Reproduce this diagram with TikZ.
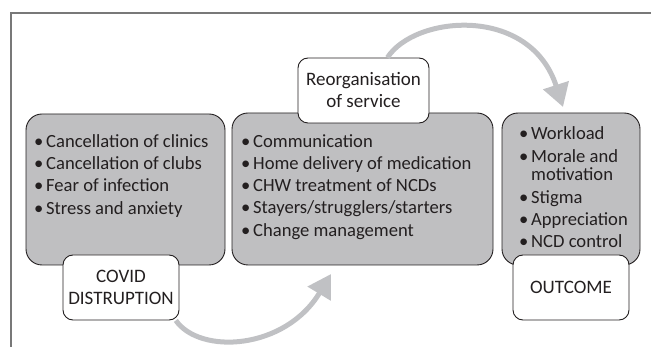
\documentclass[tikz,border=0pt]{standalone}
\usepackage{fontspec}
\setmainfont{Carlito}
\usetikzlibrary{arrows.meta, positioning}

\definecolor{boxgray}{HTML}{BFBFC1}
\definecolor{flowgray}{HTML}{C0C1C4}
\definecolor{framegray}{HTML}{787878}
\definecolor{ink}{HTML}{231F20}

\newcommand{\bul}[1]{\makebox[12pt][l]{\textbullet}#1}

\tikzset{
  graybox/.style={draw=ink, line width=0.9pt, fill=boxgray, rounded corners=16pt},
  labelbox/.style={draw=ink, line width=0.9pt, fill=white, rounded corners=10pt,
    align=center, text=ink, font=\fontsize{19}{22}\selectfont},
  itemlist/.style={align=left, anchor=north west, inner sep=0pt, text=ink,
    font=\fontsize{18.6}{22.3}\selectfont},
  flow/.style={draw=flowgray, line width=5pt, -{Triangle[length=23pt,width=26pt]}},
}

\begin{document}
\begin{tikzpicture}[x=1pt, y=-1pt]
\useasboundingbox (0,0) rectangle (651,347);
% frame
\draw[framegray, line width=1.2pt] (11,347) -- (11,13) -- (651,13);

% gray boxes
\node[graybox, minimum width=199pt, minimum height=151pt] (cause) at (125.5,189.5) {};
\node[graybox, minimum width=261pt, minimum height=152pt] (service) at (362.5,189) {};
\node[graybox, minimum width=138pt, minimum height=152pt] (result) at (571,189) {};

\node[itemlist] (causelist) at (34,134) {\bul{Cancellation of clinics}\\
  \bul{Cancellation of clubs}\\ \bul{Fear of infection}\\ \bul{Stress and anxiety}};
\node[itemlist] (servicelist) at (241,134) {\bul{Communication}\\
  \bul{Home delivery of medication}\\ \bul{CHW treatment of NCDs}\\
  \bul{Stayers/strugglers/starters}\\ \bul{Change management}};
\node[itemlist] (resultlist) at (519,126) {\bul{Workload}\\[1.5pt]
  \bul{Morale and}\\[-5pt] \hspace*{12pt}motivation\\[0.5pt] \bul{Stigma}\\
  \bul{Appreciation}\\ \bul{NCD control}};

% white labels
\node[labelbox, minimum width=116pt, minimum height=65pt] (covid) at (121,287.5) {COVID\\DISTRUPTION};
\node[labelbox, minimum width=131pt, minimum height=65pt] (reorg) at (363.5,90.5) {Reorganisation\\of service};
\node[labelbox, minimum width=116pt, minimum height=65pt] (outcome) at (571,287.5) {OUTCOME};

% arrows
\coordinate (tipA) at (331,274);
\coordinate (tipB) at (563,107);
\draw[flow] (covid.-31) .. controls (200,355) and (285,350) .. (tipA);
\draw[flow] (reorg.54) .. controls (415,15) and (530,5) .. (tipB);
\end{tikzpicture}
\end{document}
